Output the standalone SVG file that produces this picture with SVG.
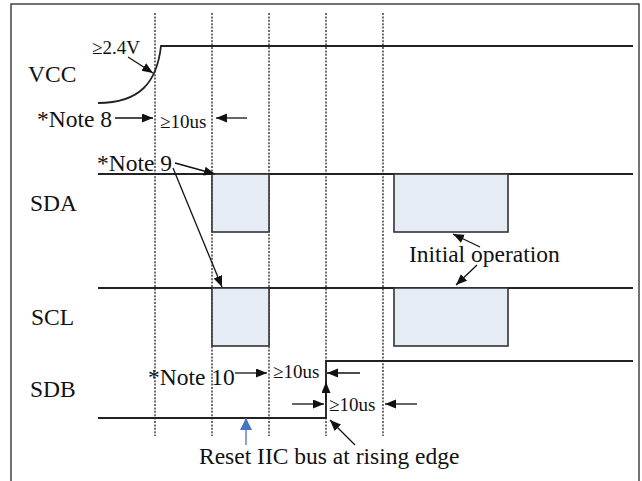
<svg xmlns="http://www.w3.org/2000/svg" width="642" height="481" viewBox="0 0 642 481" font-family="'Liberation Serif', 'Times New Roman', 'DejaVu Serif', serif">
<style>
text{fill:#111}
.big{font-size:23.5px}
.sm{font-size:19px}
.sig{fill:none;stroke:#222;stroke-width:1.8}
.dot{stroke:#222;stroke-width:1.3;stroke-dasharray:2 1.4;fill:none}
.box{fill:#e5ecf5;stroke:#333;stroke-width:1.6}
.arr{stroke:#111;stroke-width:1.3;fill:none;marker-end:url(#ah)}
</style>
<defs>
<marker id="ah" markerUnits="userSpaceOnUse" markerWidth="12" markerHeight="10" refX="11" refY="4.5" orient="auto">
<path d="M0,0 L11,4.5 L0,9 Z" fill="#111"/>
</marker>
<marker id="ahb" markerUnits="userSpaceOnUse" markerWidth="12" markerHeight="12" refX="12" refY="6" orient="auto">
<path d="M0,0 L12,6 L0,12 Z" fill="#4472c4"/>
</marker>
</defs>
<rect x="0" y="0" width="642" height="481" fill="#fff"/>
<rect x="11" y="4" width="628" height="500" fill="none" stroke="#444" stroke-width="1.5"/>
<g id="grid">
<line class="dot" x1="155" y1="13" x2="155" y2="436"/>
<line class="dot" x1="212" y1="13" x2="212" y2="436"/>
<line class="dot" x1="269" y1="13" x2="269" y2="436"/>
<line class="dot" x1="326" y1="13" x2="326" y2="436"/>
<line class="dot" x1="383" y1="13" x2="383" y2="436"/>
</g>
<g id="vcc">
<text class="big" x="28" y="82">VCC</text>
<path class="sig" d="M98,103 C140,103 157,82 161,46 L633,46"/>
<text class="sm" x="92" y="54">≥2.4V</text>
</g>
<g id="sda">
<text class="big" x="30" y="211">SDA</text>
<line class="sig" x1="98" y1="174" x2="633" y2="174"/>
<rect class="box" x="212" y="174" width="57" height="58"/>
<rect class="box" x="394" y="174" width="114" height="58"/>
</g>
<g id="scl">
<text class="big" x="31" y="325">SCL</text>
<line class="sig" x1="98" y1="288" x2="633" y2="288"/>
<rect class="box" x="212" y="288" width="57" height="58"/>
<rect class="box" x="394" y="288" width="114" height="58"/>
</g>
<g id="sdb">
<text class="big" x="30" y="397">SDB</text>
<path class="sig" d="M98,418 L326,418 L326,361 L633,361"/>
</g>
<g id="labels">
<text class="big" x="37" y="127">*Note 8</text>
<text class="sm" x="160" y="128">≥10us</text>
<text class="big" x="97" y="171">*Note 9</text>
<text class="big" x="409" y="262">Initial operation</text>
<text class="big" x="148" y="385">*Note 10</text>
<text class="sm" x="273" y="378">≥10us</text>
<text class="sm" x="329" y="411">≥10us</text>
<text class="big" x="199" y="464">Reset IIC bus at rising edge</text>
</g>
<g id="connectors">
<line class="arr" x1="128" y1="57" x2="153" y2="73"/>
<line class="arr" x1="115" y1="118" x2="153" y2="118"/>
<line class="arr" x1="247" y1="118" x2="216" y2="118"/>
<line class="arr" x1="175" y1="163" x2="215" y2="174"/>
<line class="arr" x1="173" y1="168" x2="222" y2="287"/>
<line class="arr" x1="480" y1="247" x2="453" y2="234"/>
<line class="arr" x1="477" y1="265" x2="456" y2="285"/>
<line class="arr" x1="235" y1="373" x2="267" y2="373"/>
<line class="arr" x1="360" y1="373" x2="327" y2="373"/>
<line class="arr" x1="292" y1="404" x2="324" y2="404"/>
<line class="arr" x1="417" y1="404" x2="385" y2="404"/>
<line class="arr" x1="326" y1="400" x2="326" y2="382"/>
<line class="arr" x1="355" y1="445" x2="330" y2="420"/>
<line x1="246" y1="445" x2="246" y2="418" stroke="#4472c4" stroke-width="1.3" marker-end="url(#ahb)"/>
</g>
</svg>
